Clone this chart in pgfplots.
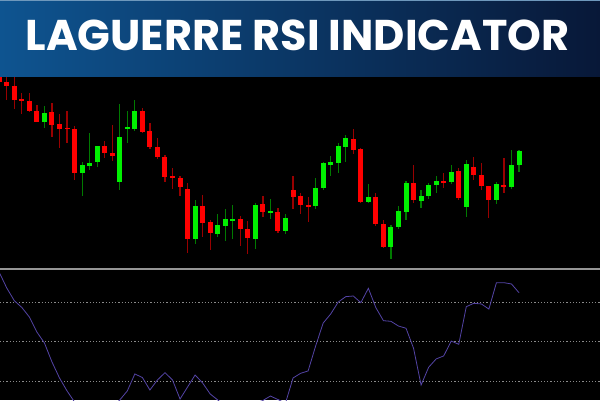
\documentclass[border=0pt]{standalone}
\usepackage{fontspec}
\newfontfamily\titlefont{Poppins}
\usepackage{pgfplots}
\usepackage{pgfplotstable}
\pgfplotsset{compat=1.18}
\definecolor{bull}{HTML}{00F000}
\definecolor{bear}{HTML}{FF0000}
\definecolor{bullwick}{HTML}{007A00}
\definecolor{bearwick}{HTML}{990000}
\definecolor{lrsicol}{HTML}{5444A6}
\definecolor{bannerL}{HTML}{0E5490}
\definecolor{bannerR}{HTML}{081838}
\definecolor{sepgray}{HTML}{969696}
\definecolor{dotgray}{HTML}{8A8A8A}

% bearish candles: index, open, high, low, close
\pgfplotstableread{
i  o      h      l      c
0  326    330    315    318
1  318    323.3  300    314.3
2  314.3  324    291.3  300.3
3  301    306.7  286    299.3
4  299    307.3  288.3  289.3
5  289    295    277.7  278.3
7  288    297.3  263.3  275
8  276    285.7  252.3  271.3
9  272.3  289.3  257.3  271
10 271    274    220    226.7
14 254    259.3  241.7  247
15 247    275    239.3  244
19 289    292.3  266.7  268.3
20 269    276.7  250.7  252.7
21 253.3  261.7  241    242.7
22 242.7  245    218.3  223.3
23 224    231.7  211    222.3
24 222.3  224    204    212.7
25 211    216.7  146.7  161
27 194    205    163.3  176.7
28 178    180    150    166.7
32 180.7  184.3  154    171
33 171    179.3  146    161.7
35 196    204.3  183.3  187.7
37 188    191.7  166.7  169
39 210    224    191    203.3
40 204    206.7  185.7  195
41 195    202.7  178.3  193
47 261.3  271    245.7  250.3
48 251    251.7  196.7  198.3
50 202.7  206.7  174    176.3
51 176    180    152.3  153.3
55 217.3  235    196.7  200
59 219    227.3  211.7  217.3
61 229    232.3  200    202.3
63 232.7  243.3  220    225
64 225    236.7  210    214
65 214    214    182.3  200
67 215    241.7  206.7  212.7
}\beartab

% bullish candles: index, open, high, low, close
\pgfplotstableread{
i  o      h      l      c
6  278.3  294    271.7  287
11 227.3  238.3  204    235
12 234.3  266.7  230    237.3
13 238.3  254    233.3  253.7
16 218    295.7  210    263.3
17 271.7  289    257.3  273
18 271.3  300    269    289
26 161    200    156    194.3
29 166.3  186    163.3  175
30 174.3  191.3  159    180.7
31 179.3  195    161    180.7
34 161    196.7  151    195
36 187.3  201    181    188.7
38 169    186    166    181.7
42 194    221.7  191    212.3
43 211.7  238.3  210    236.7
44 235.3  244    224    238
45 237.3  256.7  226.7  254.3
46 253    265    238.3  262
49 197.7  216    196.7  202.7
52 153.3  175    141    173.3
53 173.3  194    171    189
54 188.3  219    180    217.3
56 199.3  210    191.7  203.7
57 204    216.7  201    215
58 215    224    206.7  219
60 217.7  235    216    228.3
62 193.3  240    183.3  236
66 200    218.3  195.7  215.7
68 213.3  250    211    235
69 235    250    228.3  249.3
}\bulltab

% Laguerre RSI
\pgfplotstableread{
i  v
0  1.031
1  0.911
2  0.814
3  0.762
4  0.689
5  0.574
6  0.490
7  0.345
8  0.222
9  0.123
10 0.038
11 0.0
12 0.0
13 0.0
14 0.0
15 0.0
16 0.054
17 0.123
18 0.253
19 0.226
20 0.130
21 0.207
22 0.263
23 0.207
24 0.061
25 0.153
26 0.245
27 0.184
28 0.100
29 0.054
30 0.010
31 0.0
32 0.0
33 0.0
34 0.030
35 0.050
36 0.084
37 0.057
38 0.030
39 0.222
40 0.258
41 0.276
42 0.467
43 0.643
44 0.712
45 0.804
46 0.845
47 0.850
48 0.799
49 0.909
50 0.760
51 0.661
52 0.656
53 0.620
54 0.603
55 0.449
56 0.168
57 0.304
58 0.368
59 0.391
60 0.505
61 0.480
62 0.768
63 0.794
64 0.789
65 0.750
66 0.952
67 0.952
68 0.942
69 0.875
}\lrsitab

\pgfplotsset{
  pricepanel/.style={at={(0pt,132pt)}, anchor=south west, scale only axis,
    width=600pt, height=268pt, xmin=0.1, xmax=79.75, ymin=132, ymax=400,
    hide axis},
  candlebar/.style 2 args={draw=none, no markers, forget plot,
    error bars/.cd, y dir=both, y explicit, error mark=none,
    error bar style={draw=#1, line width=#2, solid}},
}

\begin{document}
\begin{tikzpicture}
\useasboundingbox (0,0) rectangle (600pt,400pt);
\fill[black] (0,0) rectangle (600pt,400pt);

% price panel: wicks
\begin{axis}[pricepanel]
  \addplot[candlebar={bearwick}{1.2pt}]
    table[x=i, y expr={(\thisrow{h}+\thisrow{l})/2}, y error expr={(\thisrow{h}-\thisrow{l})/2}] {\beartab};
  \addplot[candlebar={bullwick}{1.2pt}]
    table[x=i, y expr={(\thisrow{h}+\thisrow{l})/2}, y error expr={(\thisrow{h}-\thisrow{l})/2}] {\bulltab};
\end{axis}
% price panel: bodies
\begin{axis}[pricepanel]
  \addplot[candlebar={bear}{5pt}]
    table[x=i, y expr={(\thisrow{o}+\thisrow{c})/2}, y error expr={abs(\thisrow{o}-\thisrow{c})/2}] {\beartab};
  \addplot[candlebar={bull}{5pt}]
    table[x=i, y expr={(\thisrow{o}+\thisrow{c})/2}, y error expr={abs(\thisrow{o}-\thisrow{c})/2}] {\bulltab};
\end{axis}

% indicator panel
\begin{axis}[at={(0pt,0pt)}, anchor=south west, scale only axis,
  width=600pt, height=131pt, xmin=0.1, xmax=79.75, ymin=0.0536, ymax=1.0567,
  axis line style={draw=none}, xtick=\empty, ytick={0.2,0.5,0.8}, yticklabels={},
  major tick length=0pt, ymajorgrids,
  grid style={draw=dotgray, line width=0.7pt, dash pattern=on 1.2pt off 2pt}]
  \addplot[lrsicol, line width=0.8pt, mark=none] table[x=i, y=v] {\lrsitab};
\end{axis}

\draw[sepgray, line width=1.8pt] (0pt,131pt) -- (600pt,131pt);

% banner
\shade[left color=bannerL, right color=bannerR] (0pt,324pt) rectangle (600pt,400pt);
\draw[bannerL!60!white, line width=0.8pt] (0pt,399.6pt) -- (600pt,399.6pt);
\node[text=white, font=\titlefont\bfseries\fontsize{43}{43}\selectfont, inner sep=0pt]
  at (297.5pt,364.2pt) {LAGUERRE RSI INDICATOR};
\end{tikzpicture}
\end{document}
